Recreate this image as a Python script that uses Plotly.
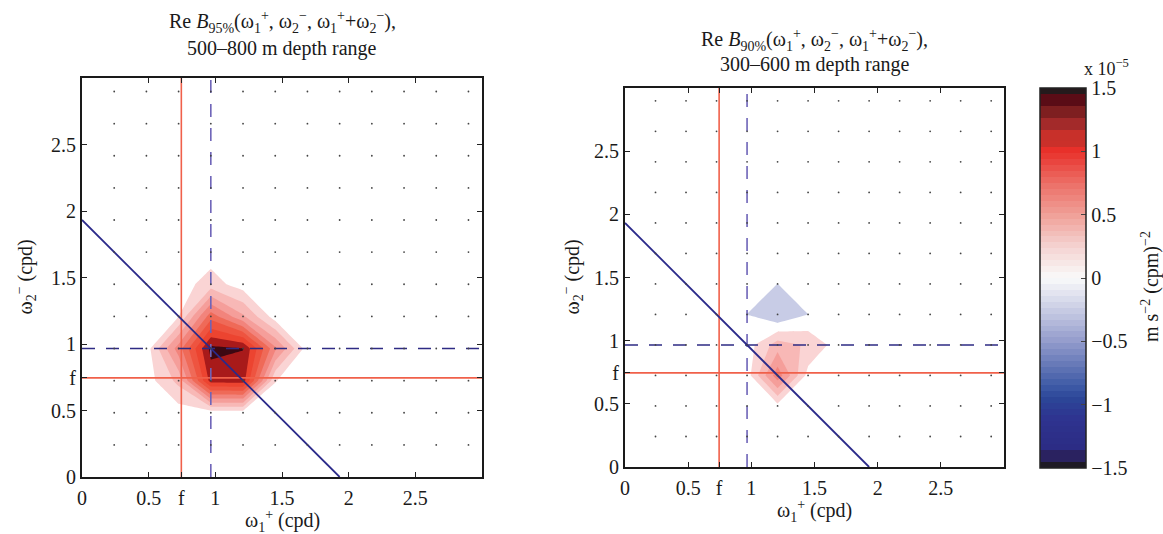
import plotly.graph_objects as go

# ---------------------------------------------------------------------------
# Data
# ---------------------------------------------------------------------------
# Frequency bins (cpd); bin width is M2/8
freq = [0.0, 0.2415, 0.4831, 0.7246, 0.9662, 1.2077, 1.4492,
        1.6908, 1.9323, 2.1738, 2.4154, 2.6569, 2.8985, 3.1400]
M2 = 1.9323          # semidiurnal lunar tide (cpd)
F_INERTIAL = 0.745   # local inertial frequency (cpd)

# Real part of the significant bispectrum, units of 1e-5 m s^-2 (cpm)^-2.
# Rows follow omega2 (y), columns follow omega1 (x).
bisp_500_800 = [
    [0, 0, 0, 0.00, 0.00, 0.00, 0.00, 0, 0, 0, 0, 0, 0, 0],
    [0, 0, 0, 0.00, 0.00, 0.00, 0.00, 0, 0, 0, 0, 0, 0, 0],
    [0, 0, 0, 0.00, 0.00, 0.00, 0.00, 0, 0, 0, 0, 0, 0, 0],
    [0, 0, 0, 0.27, 1.19, 1.20, 0.08, 0, 0, 0, 0, 0, 0, 0],
    [0, 0, 0, 0.60, 1.32, 1.28, 0.56, 0, 0, 0, 0, 0, 0, 0],
    [0, 0, 0, 0.07, 0.76, 0.40, 0.00, 0, 0, 0, 0, 0, 0, 0],
    [0, 0, 0, 0.00, 0.145, 0.00, 0.00, 0, 0, 0, 0, 0, 0, 0],
    [0, 0, 0, 0.00, 0.00, 0.00, 0.00, 0, 0, 0, 0, 0, 0, 0],
    [0, 0, 0, 0.00, 0.00, 0.00, 0.00, 0, 0, 0, 0, 0, 0, 0],
    [0, 0, 0, 0.00, 0.00, 0.00, 0.00, 0, 0, 0, 0, 0, 0, 0],
    [0, 0, 0, 0.00, 0.00, 0.00, 0.00, 0, 0, 0, 0, 0, 0, 0],
    [0, 0, 0, 0.00, 0.00, 0.00, 0.00, 0, 0, 0, 0, 0, 0, 0],
    [0, 0, 0, 0.00, 0.00, 0.00, 0.00, 0, 0, 0, 0, 0, 0, 0],
    [0, 0, 0, 0.00, 0.00, 0.00, 0.00, 0, 0, 0, 0, 0, 0, 0],
]

bisp_300_600 = [
    [0, 0, 0, 0, 0.000, 0.000, 0.000, 0, 0, 0, 0, 0, 0, 0],
    [0, 0, 0, 0, 0.000, 0.000, 0.000, 0, 0, 0, 0, 0, 0, 0],
    [0, 0, 0, 0, 0.000, 0.030, 0.000, 0, 0, 0, 0, 0, 0, 0],
    [0, 0, 0, 0, 0.000, 0.620, 0.020, 0, 0, 0, 0, 0, 0, 0],
    [0, 0, 0, 0, 0.000, 0.300, 0.200, 0, 0, 0, 0, 0, 0, 0],
    [0, 0, 0, 0, -0.076, -0.220, -0.076, 0, 0, 0, 0, 0, 0, 0],
    [0, 0, 0, 0, 0.000, -0.076, 0.000, 0, 0, 0, 0, 0, 0, 0],
    [0, 0, 0, 0, 0.000, 0.000, 0.000, 0, 0, 0, 0, 0, 0, 0],
    [0, 0, 0, 0, 0.000, 0.000, 0.000, 0, 0, 0, 0, 0, 0, 0],
    [0, 0, 0, 0, 0.000, 0.000, 0.000, 0, 0, 0, 0, 0, 0, 0],
    [0, 0, 0, 0, 0.000, 0.000, 0.000, 0, 0, 0, 0, 0, 0, 0],
    [0, 0, 0, 0, 0.000, 0.000, 0.000, 0, 0, 0, 0, 0, 0, 0],
    [0, 0, 0, 0, 0.000, 0.000, 0.000, 0, 0, 0, 0, 0, 0, 0],
    [0, 0, 0, 0, 0.000, 0.000, 0.000, 0, 0, 0, 0, 0, 0, 0],
]

axis_ticks = [0, 0.5, F_INERTIAL, 1, 1.5, 2, 2.5]
axis_ticklabels = ["0", "0.5", "f", "1", "1.5", "2", "2.5"]
cbar_ticks = [-1.5, -1, -0.5, 0, 0.5, 1, 1.5]
cbar_ticklabels = ["\u22121.5", "\u22121", "\u22120.5", "0", "0.5", "1", "1.5"]

# ---------------------------------------------------------------------------
# Styling
# ---------------------------------------------------------------------------
W, H = 1163, 534
FONT = "Liberation Serif"
TXT = "#1a1a1a"

# Fill colour of each contour band (band centres, step 0.15)
band_colors = [
    (-1.50, "#1e1a26"), (-1.35, "#2a2260"), (-1.20, "#2c3090"), (-1.05, "#2e3892"),
    (-0.90, "#2e4a9a"), (-0.75, "#5a66ae"), (-0.60, "#7c86c0"), (-0.45, "#9aa0d0"),
    (-0.30, "#b0b6dc"), (-0.15, "#c8cce6"), (0.00, "#ffffff"), (0.15, "#fad4d4"),
    (0.30, "#f8b8b6"), (0.45, "#f59e9a"), (0.60, "#f2847c"), (0.75, "#ef6a58"),
    (0.90, "#ee5440"), (1.05, "#ec4430"), (1.20, "#a81a1a"), (1.35, "#3c0812"),
    (1.50, "#24141a"),
]
contour_scale = [[(v + 1.5) / 3.0, c] for v, c in band_colors]

# Colour-bar map anchors
cmap_anchors = [
    (-1.500, "#1e1a24"), (-1.455, "#1e1a24"), (-1.450, "#2a2260"), (-1.355, "#2a2260"),
    (-1.350, "#2c2c84"), (-1.100, "#2e3490"), (-0.950, "#2c4698"), (-0.850, "#3e5aa6"),
    (-0.500, "#949ccc"), (-0.250, "#c8cce4"), (0.000, "#fafafa"), (0.250, "#f4d2d0"),
    (0.500, "#f0a098"), (0.750, "#ec6e66"), (1.000, "#e8302a"), (1.050, "#e8302a"),
    (1.055, "#c8302a"), (1.150, "#c8302a"), (1.155, "#a32a2a"), (1.250, "#a32a2a"),
    (1.255, "#7e1f20"), (1.350, "#7e1f20"), (1.355, "#5a0c16"), (1.450, "#5a0c16"),
    (1.455, "#241a1c"), (1.500, "#241a1c"),
]


def _rgb(h):
    h = h.lstrip("#")
    return tuple(int(h[i:i + 2], 16) for i in (0, 2, 4))


def cmap(v):
    for (v0, c0), (v1, c1) in zip(cmap_anchors[:-1], cmap_anchors[1:]):
        if v0 <= v <= v1:
            t = 0.0 if v1 == v0 else (v - v0) / (v1 - v0)
            a, b = _rgb(c0), _rgb(c1)
            r = [round(a[i] + (b[i] - a[i]) * t) for i in range(3)]
            return "rgb(%d,%d,%d)" % tuple(r)
    return cmap_anchors[-1][1]


N_STEPS = 64
cbar_scale = []
for i in range(N_STEPS):
    c = cmap(-1.5 + (i + 0.5) * 3.0 / N_STEPS)
    cbar_scale.append([i / N_STEPS, c])
    cbar_scale.append([(i + 1) / N_STEPS, c])


def px(x):
    return x / W


def py(y):
    return 1 - y / H


panels = [
    dict(z=bisp_500_800, xd=[px(82), px(482)], yd=[py(477), py(78)],
         title_sub="95%", depth="500\u2013800 m depth range",
         title_y=(22, 48), xlabel_y=521, ylabel_x=25),
    dict(z=bisp_300_600, xd=[px(625), px(1004)], yd=[py(467), py(88)],
         title_sub="90%", depth="300\u2013600 m depth range",
         title_y=(40, 65), xlabel_y=511, ylabel_x=572),
]

# grid points marked on the frequency plane (inside the plotted range)
grid_f = [f for f in freq[1:] if f < 3]

fig = go.Figure()
annotations = []

for n, p in enumerate(panels, start=1):
    xa = "x" if n == 1 else "x%d" % n
    ya = "y" if n == 1 else "y%d" % n

    fig.add_trace(go.Contour(
        x=freq, y=freq, z=p["z"], xaxis=xa, yaxis=ya,
        colorscale=contour_scale, showscale=False,
        contours=dict(start=-1.425, end=1.4252, size=0.15, coloring="fill",
                      showlines=False),
        line=dict(width=0, smoothing=0), hoverinfo="skip",
    ))

    # inertial frequency lines
    fig.add_trace(go.Scatter(x=[F_INERTIAL, F_INERTIAL], y=[0, 3], mode="lines",
                             line=dict(color="#f0604a", width=1.6),
                             xaxis=xa, yaxis=ya, showlegend=False, hoverinfo="skip"))
    fig.add_trace(go.Scatter(x=[0, 3], y=[F_INERTIAL, F_INERTIAL], mode="lines",
                             line=dict(color="#f0604a", width=1.6),
                             xaxis=xa, yaxis=ya, showlegend=False, hoverinfo="skip"))
    # M2/2 lines
    fig.add_trace(go.Scatter(x=[M2 / 2, M2 / 2], y=[0, 3], mode="lines",
                             line=dict(color="#6e64b8", width=1.6, dash="13px,11px"),
                             xaxis=xa, yaxis=ya, showlegend=False, hoverinfo="skip"))
    fig.add_trace(go.Scatter(x=[0, 3], y=[M2 / 2, M2 / 2], mode="lines",
                             line=dict(color="#2e2b84", width=1.6, dash="13px,11px"),
                             xaxis=xa, yaxis=ya, showlegend=False, hoverinfo="skip"))
    # omega1 + omega2 = M2
    fig.add_trace(go.Scatter(x=[0, M2], y=[M2, 0], mode="lines",
                             line=dict(color="#2b2a8a", width=1.8),
                             xaxis=xa, yaxis=ya, showlegend=False, hoverinfo="skip"))
    # frequency grid points
    gx = [fx for fy in grid_f for fx in grid_f]
    gy = [fy for fy in grid_f for fx in grid_f]
    fig.add_trace(go.Scatter(x=gx, y=gy, mode="markers",
                             marker=dict(color="#444444", size=1.8),
                             xaxis=xa, yaxis=ya, showlegend=False, hoverinfo="skip"))

    axis_common = dict(range=[0, 3], tickvals=axis_ticks, ticktext=axis_ticklabels,
                       ticks="inside", ticklen=5, tickwidth=1.2, tickcolor="#222",
                       showline=True, linewidth=2.2, linecolor="#1a1a1a", mirror="ticks",
                       showgrid=False, zeroline=False,
                       tickfont=dict(family=FONT, size=20, color=TXT))
    fig.update_layout(**{
        ("xaxis" if n == 1 else "xaxis%d" % n): dict(axis_common, domain=p["xd"], anchor=ya,
                                                    ticklabelstandoff=2),
        ("yaxis" if n == 1 else "yaxis%d" % n): dict(axis_common, domain=p["yd"], anchor=xa),
    })

    cx = (p["xd"][0] + p["xd"][1]) / 2
    cy = (p["yd"][0] + p["yd"][1]) / 2
    title1 = ("Re <i>B</i><sub>%s</sub>(\u03c9<sub>1</sub><sup>+</sup>, "
              "\u03c9<sub>2</sub><sup>\u2212</sup>, "
              "\u03c9<sub>1</sub><sup>+</sup>+\u03c9<sub>2</sub><sup>\u2212</sup>),") % p["title_sub"]
    annotations += [
        dict(text=title1, x=cx, y=py(p["title_y"][0]), xref="paper", yref="paper",
             showarrow=False, xanchor="center", yanchor="middle",
             font=dict(family=FONT, size=20, color=TXT)),
        dict(text=p["depth"], x=cx, y=py(p["title_y"][1]), xref="paper", yref="paper",
             showarrow=False, xanchor="center", yanchor="middle",
             font=dict(family=FONT, size=20, color=TXT)),
        dict(text="\u03c9<sub>1</sub><sup>+</sup> (cpd)", x=cx, y=py(p["xlabel_y"]),
             xref="paper", yref="paper", showarrow=False, xanchor="center", yanchor="middle",
             font=dict(family=FONT, size=20, color=TXT)),
        dict(text="\u03c9<sub>2</sub><sup>\u2212</sup> (cpd)", x=px(p["ylabel_x"]), y=cy,
             xref="paper", yref="paper", showarrow=False, xanchor="center", yanchor="middle",
             textangle=-90, font=dict(family=FONT, size=20, color=TXT)),
    ]

# colour bar
fig.add_trace(go.Scatter(
    x=[None], y=[None], mode="markers", xaxis="x2", yaxis="y2",
    showlegend=False, hoverinfo="skip",
    marker=dict(color=[0], cmin=-1.5, cmax=1.5, colorscale=cbar_scale, showscale=True,
                colorbar=dict(x=px(1040), xanchor="left", xpad=0, ypad=0,
                              y=py(278), yanchor="middle", len=380 / H, lenmode="fraction",
                              thickness=46, thicknessmode="pixels",
                              outlinewidth=1.5, outlinecolor="#222",
                              tickvals=cbar_ticks, ticktext=cbar_ticklabels,
                              ticks="inside", ticklen=5, tickcolor="#444",
                              tickfont=dict(family=FONT, size=20, color=TXT))),
))

annotations += [
    dict(text="x 10<sup>\u22125</sup>", x=px(1106), y=py(68), xref="paper", yref="paper",
         showarrow=False, xanchor="center", yanchor="middle",
         font=dict(family=FONT, size=18, color=TXT)),
    dict(text="m s<sup>\u22122</sup> (cpm)<sup>\u22122</sup>", x=px(1150), y=py(287),
         xref="paper", yref="paper", showarrow=False, xanchor="center", yanchor="middle",
         textangle=-90, font=dict(family=FONT, size=20, color=TXT)),
]

fig.update_layout(
    width=W, height=H,
    margin=dict(l=0, r=0, t=0, b=0, autoexpand=False),
    paper_bgcolor="white", plot_bgcolor="white",
    showlegend=False, annotations=annotations,
)

fig.write_html("out.html")
